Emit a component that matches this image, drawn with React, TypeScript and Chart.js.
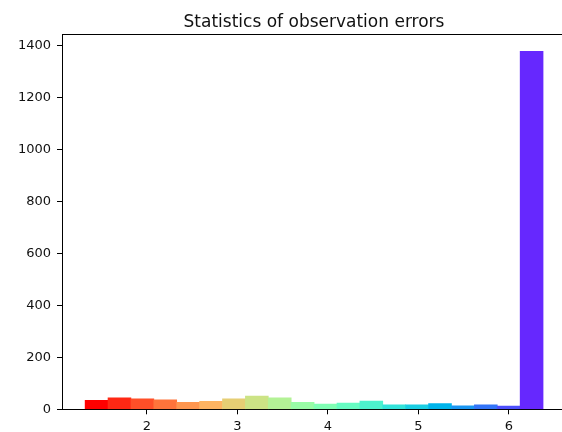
import { useEffect, useRef } from 'react';
import { Chart, registerables } from 'chart.js';

Chart.register(...registerables);

const chartTitle = 'Statistics of observation errors';
const binCenters = [1.445, 1.698, 1.951, 2.204, 2.457, 2.71, 2.963, 3.216, 3.469, 3.722, 3.975, 4.228, 4.481, 4.734, 4.987, 5.24, 5.493, 5.746, 5.999, 6.252];
const counts = [35, 44, 40, 36, 27, 31, 40, 51, 44, 27, 20, 24, 32, 17, 17, 22, 13, 17, 12, 1378];
const barColors = [
  '#ff0000', '#ff2814', '#ff4f28', '#ff743b', '#ff964f',
  '#ffb462', '#e6ce74', '#cce385', '#b3f296', '#99fca6',
  '#80ffb4', '#66fcc2', '#4df2ce', '#33e3da', '#1acee3',
  '#00b4eb', '#1a96f2', '#3374f8', '#4d4ffc', '#6628fe',
];
const xTicks = [2, 3, 4, 5, 6];
const yTicks = [0, 200, 400, 600, 800, 1000, 1200, 1400];

const FONT = '"DejaVu Sans", sans-serif';

const framePlugin = {
  id: 'framePlugin',
  afterDraw(chart: any) {
    const { ctx, chartArea } = chart;
    ctx.save();
    ctx.strokeStyle = '#000';
    ctx.lineWidth = 1;
    ctx.beginPath();
    ctx.moveTo(chartArea.left, chartArea.top + 0.5);
    ctx.lineTo(chartArea.right, chartArea.top + 0.5);
    ctx.stroke();
    ctx.fillStyle = '#111';
    ctx.font = `17px ${FONT}`;
    ctx.textAlign = 'center';
    ctx.textBaseline = 'alphabetic';
    ctx.fillText(chartTitle, (chartArea.left + chartArea.right) / 2, 26.5);
    ctx.restore();
  },
};

export default function App() {
  const ref = useRef<HTMLCanvasElement>(null);
  useEffect(() => {
    document.body.style.margin = '0';
    const chart = new Chart(ref.current!, {
      type: 'bar',
      data: {
        datasets: [
          {
            data: binCenters.map((x, i) => ({ x, y: counts[i] })),
            backgroundColor: barColors,
            borderWidth: 0,
            barPercentage: 1,
            categoryPercentage: 1,
          },
        ],
      },
      options: {
        animation: false,
        responsive: false,
        layout: { padding: { top: 34, right: 4, left: 0, bottom: 0 } },
        plugins: {
          legend: { display: false },
          tooltip: { enabled: false },
          title: { display: false },
        },
        scales: {
          x: {
            type: 'linear',
            offset: false,
            min: 1.063,
            max: 6.632,
            afterBuildTicks: (s: any) => {
              s.ticks = xTicks.map((v) => ({ value: v }));
            },
            afterFit: (s: any) => {
              s.height = 22.7;
            },
            grid: { display: true, offset: false, drawOnChartArea: false, drawTicks: true, tickLength: 5, color: '#000' },
            border: { display: true, color: '#000', width: 1 },
            ticks: {
              padding: 5,
              color: '#111',
              maxRotation: 0,
              autoSkip: false,
              font: { family: FONT, size: 13 },
              callback: (v: any) => String(v),
            },
          },
          y: {
            min: 0,
            max: 1445,
            afterBuildTicks: (s: any) => {
              s.ticks = yTicks.map((v) => ({ value: v }));
            },
            afterFit: (s: any) => {
              s.width = 62;
            },
            grid: { display: true, drawOnChartArea: false, drawTicks: true, tickLength: 5, color: '#000' },
            border: { display: true, color: '#000', width: 1 },
            ticks: {
              padding: 6,
              color: '#111',
              autoSkip: false,
              font: { family: FONT, size: 13 },
              callback: (v: any) => String(v),
            },
          },
        },
      },
      plugins: [framePlugin],
    });
    return () => chart.destroy();
  }, []);
  return (
    <div style={{ width: 562, height: 432, overflow: 'hidden', position: 'relative' }}>
      <canvas ref={ref} width={570} height={432} style={{ display: 'block' }} />
    </div>
  );
}
